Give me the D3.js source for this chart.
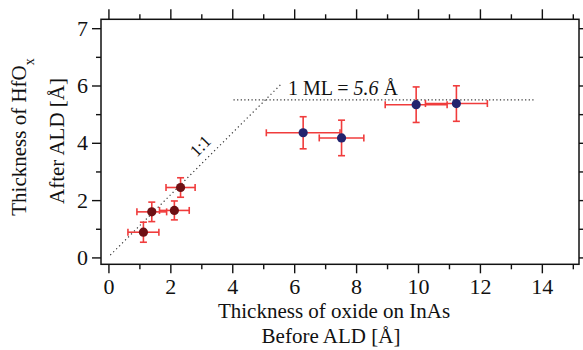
<!DOCTYPE html>
<html>
<head>
<meta charset="utf-8">
<script src="https://cdn.jsdelivr.net/npm/d3@7"></script>
<style>
  body { margin: 0; background: #fff; }
  svg { display: block; }
  text { font-family: "Liberation Serif", "DejaVu Serif", serif; fill: #111; }
</style>
</head>
<body>
<div id="chart"></div>
<script>
// measurements before/after ALD (thin native oxide)
const thinX = [1.13, 1.40, 2.13, 2.33];
const thinY = [0.88, 1.59, 1.64, 2.44];
const thinXErr = [0.50, 0.48, 0.48, 0.47];
const thinYErr = [0.35, 0.34, 0.33, 0.34];

// thick oxide samples
const thickX = [6.29, 7.53, 9.94, 11.24];
const thickY = [4.35, 4.17, 5.33, 5.37];
const thickXErr = [1.19, 0.72, 1.0, 1.0];
const thickYErr = [0.56, 0.62, 0.62, 0.62];

// reference lines
const oneToOne = [[0.06, 0.08], [5.57, 6.04]];
const mlLevel = 5.5;
const mlRange = [4.04, 13.74];

const xMajor = [0, 2, 4, 6, 8, 10, 12, 14];
const xMinor = [1, 3, 5, 7, 9, 11, 13, 15];
const yMajor = [0, 2, 4, 6, 8];
const yTickLabels = ['0', '2', '4', '6', '7'];
const yMinor = [1, 3, 5, 7];

const width = 583, height = 350;
const margin = { top: 19.3, right: 4, bottom: 85.7, left: 101 };
const serif = '"Liberation Serif", "DejaVu Serif", serif';

const svg = d3.select('#chart').append('svg')
  .attr('width', width)
  .attr('height', height);

const xScale = d3.scaleLinear().domain([-0.24, 15.2]).range([margin.left, width - margin.right]);
const yScale = d3.scaleLinear().domain([-0.24, 8.31]).range([height - margin.bottom, margin.top]);

const x0 = xScale.range()[0], x1 = xScale.range()[1];
const y0 = yScale.range()[0], y1 = yScale.range()[1];

// frame ticks (outward on all four sides)
function tickAxis(axis, vals, size, fmt) {
  return axis.tickValues(vals).tickSize(size).tickSizeOuter(0).tickFormat(fmt);
}
const noLabel = () => '';

svg.append('g').attr('class', 'x-axis')
  .attr('transform', 'translate(0,' + y0 + ')')
  .call(tickAxis(d3.axisBottom(xScale), xMajor, 9, d3.format('d')).tickPadding(5));
svg.append('g').attr('transform', 'translate(0,' + y0 + ')')
  .call(tickAxis(d3.axisBottom(xScale), xMinor, 5, noLabel));
svg.append('g').attr('transform', 'translate(0,' + y1 + ')')
  .call(tickAxis(d3.axisTop(xScale), xMajor, 10, noLabel));
svg.append('g').attr('transform', 'translate(0,' + y1 + ')')
  .call(tickAxis(d3.axisTop(xScale), xMinor, 5, noLabel));

svg.append('g').attr('class', 'y-axis')
  .attr('transform', 'translate(' + x0 + ',0)')
  .call(tickAxis(d3.axisLeft(yScale), yMajor, 9, (d, i) => yTickLabels[i]).tickPadding(4));
svg.append('g').attr('transform', 'translate(' + x0 + ',0)')
  .call(tickAxis(d3.axisLeft(yScale), yMinor, 5, noLabel));
svg.append('g').attr('transform', 'translate(' + x1 + ',0)')
  .call(tickAxis(d3.axisRight(yScale), yMajor, 9, noLabel));
svg.append('g').attr('transform', 'translate(' + x1 + ',0)')
  .call(tickAxis(d3.axisRight(yScale), yMinor, 5, noLabel));

svg.selectAll('.domain').remove();
svg.selectAll('g').attr('font-family', null).attr('font-size', null);
svg.selectAll('.tick line').attr('stroke', '#111').attr('stroke-width', 1.4);
svg.selectAll('.tick text')
  .style('font-family', serif)
  .style('font-size', '22px')
  .attr('fill', '#111');

svg.append('rect')
  .attr('x', x0).attr('y', y1)
  .attr('width', x1 - x0).attr('height', y0 - y1)
  .attr('fill', 'none').attr('stroke', '#111').attr('stroke-width', 1.5);

// dotted guide lines
const line = d3.line().x(d => xScale(d[0])).y(d => yScale(d[1]));
svg.append('path')
  .attr('d', line(oneToOne))
  .attr('fill', 'none').attr('stroke', '#333')
  .attr('stroke-width', 1.2).attr('stroke-dasharray', '1.2,3');
svg.append('path')
  .attr('d', line(mlRange.map(v => [v, mlLevel])))
  .attr('fill', 'none').attr('stroke', '#333')
  .attr('stroke-width', 1.2).attr('stroke-dasharray', '1.2,2.4');

svg.append('text')
  .attr('transform', 'translate(' + xScale(3.1) + ',' + yScale(3.75) + ') rotate(-45)')
  .attr('text-anchor', 'middle')
  .style('font-size', '17px')
  .text('1:1');

const ml = svg.append('text')
  .attr('x', xScale(5.8)).attr('y', yScale(5.68))
  .style('font-size', '20px');
ml.append('tspan').text('1 ML = ');
ml.append('tspan').style('font-style', 'italic').text('5.6');
ml.append('tspan').text(' Å');

// error bars + points
function drawSeries(xs, ys, xe, ye, fill) {
  const data = xs.map((x, i) => ({ x: x, y: ys[i], xe: xe[i], ye: ye[i] }));
  const g = svg.append('g');
  const bar = g.selectAll('g.err').data(data).enter().append('g').attr('class', 'err')
    .attr('stroke', '#f03c3c').attr('stroke-width', 1.6);
  const cap = 3.5;
  bar.append('line')
    .attr('x1', d => xScale(d.x - d.xe)).attr('x2', d => xScale(d.x + d.xe))
    .attr('y1', d => yScale(d.y)).attr('y2', d => yScale(d.y));
  bar.append('line')
    .attr('x1', d => xScale(d.x)).attr('x2', d => xScale(d.x))
    .attr('y1', d => yScale(d.y - d.ye)).attr('y2', d => yScale(d.y + d.ye));
  [-1, 1].forEach(s => {
    bar.append('line')
      .attr('x1', d => xScale(d.x + s * d.xe)).attr('x2', d => xScale(d.x + s * d.xe))
      .attr('y1', d => yScale(d.y) - cap).attr('y2', d => yScale(d.y) + cap);
    bar.append('line')
      .attr('x1', d => xScale(d.x) - cap).attr('x2', d => xScale(d.x) + cap)
      .attr('y1', d => yScale(d.y + s * d.ye)).attr('y2', d => yScale(d.y + s * d.ye));
  });
  g.selectAll('circle').data(data).enter().append('circle')
    .attr('cx', d => xScale(d.x)).attr('cy', d => yScale(d.y))
    .attr('r', 4.6).attr('fill', fill);
}
drawSeries(thinX, thinY, thinXErr, thinYErr, '#6e1014');
drawSeries(thickX, thickY, thickXErr, thickYErr, '#23236e');

// axis titles
const ty = svg.append('text')
  .attr('transform', 'translate(26,137) rotate(-90)')
  .attr('text-anchor', 'middle')
  .style('font-size', '21px');
ty.append('tspan').text('Thickness of  HfO');
ty.append('tspan').attr('baseline-shift', 'sub').style('font-size', '14px').text('x');

svg.append('text')
  .attr('transform', 'translate(64,141) rotate(-90)')
  .attr('text-anchor', 'middle')
  .style('font-size', '21px')
  .text('After ALD [Å]');

svg.append('text')
  .attr('x', 334).attr('y', 318)
  .attr('text-anchor', 'middle')
  .style('font-size', '21px')
  .text('Thickness of  oxide on InAs');

svg.append('text')
  .attr('x', 331).attr('y', 343)
  .attr('text-anchor', 'middle')
  .style('font-size', '21px')
  .text('Before ALD [Å]');
</script>
</body>
</html>
